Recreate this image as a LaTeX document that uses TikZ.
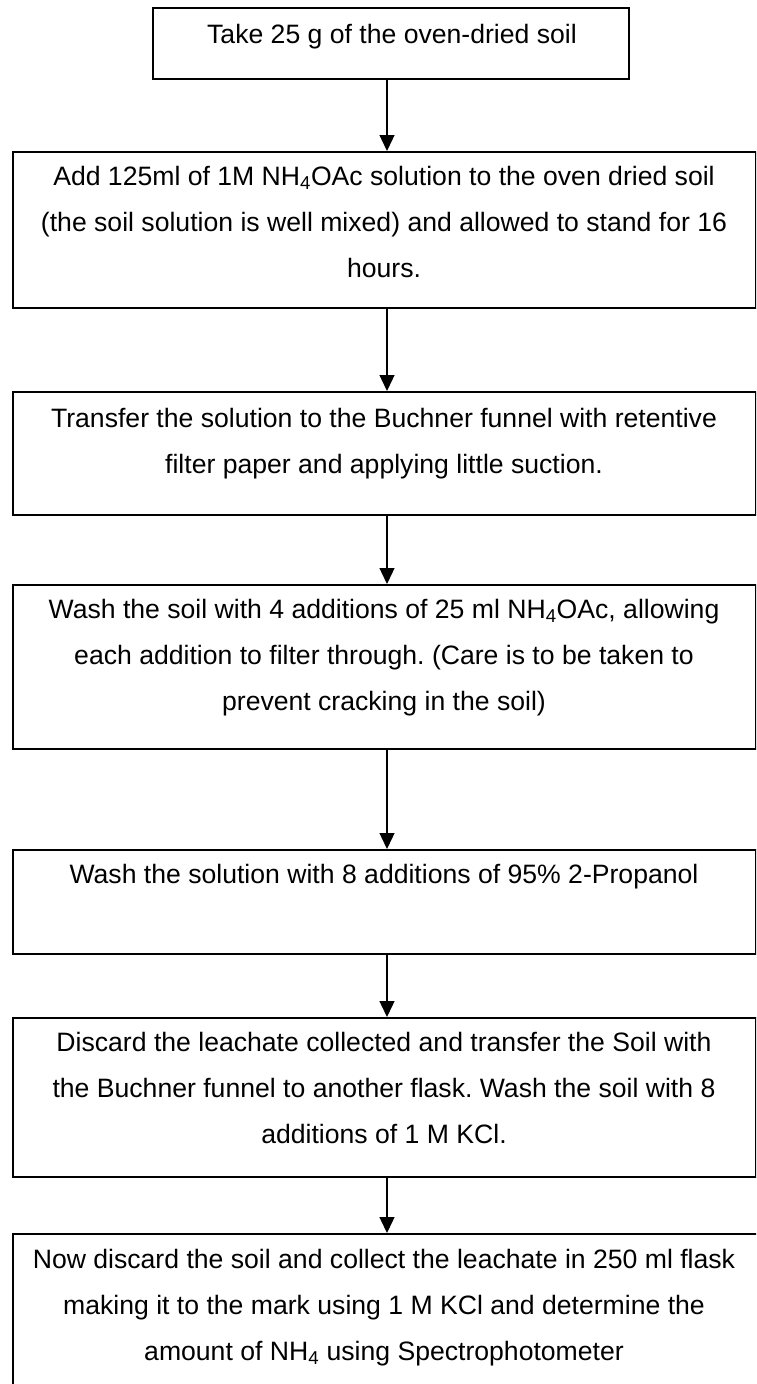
\documentclass[tikz,border=0pt]{standalone}
\usepackage{fontspec}
\setmainfont{Liberation Sans}
\frenchspacing
\usetikzlibrary{arrows.meta}
\begin{document}
\begin{tikzpicture}[x=1pt,y=-1pt,
  box/.style={draw=black, line width=1.8pt, rectangle, inner sep=0pt, anchor=north west},
  steptext/.style={anchor=north, align=center, inner sep=0pt, font=\fontsize{26.6}{46}\selectfont},
  arr/.style={draw=black, line width=1.3pt, -{Triangle[length=16pt,width=15pt]}}]
\useasboundingbox (0,0) rectangle (756,1384);
\clip (0,0) rectangle (756,1384);

% step boxes
\node[box, minimum width=476pt, minimum height=71pt]  (b1) at (152,7) {};
\node[box, minimum width=743pt, minimum height=156pt] (b2) at (12,151) {};
\node[box, minimum width=743pt, minimum height=123pt] (b3) at (12,391) {};
\node[box, minimum width=743pt, minimum height=164pt] (b4) at (12,584) {};
\node[box, minimum width=743pt, minimum height=104pt] (b5) at (12,849) {};
\node[box, minimum width=743pt, minimum height=159pt] (b6) at (12,1017) {};
\node[box, minimum width=746pt, minimum height=160pt] (b7) at (12,1233) {};

% step texts
\node[steptext] (t1) at (392,23.8) {Take 25 g of the oven-dried soil};
\node[steptext] (t2) at (384,165.8) {Add 125ml of 1M NH\textsubscript{4}OAc solution to the oven dried soil\\(the soil solution is well mixed) and allowed to stand for 16\\hours.};
\node[steptext] (t3) at (384,407.8) {Transfer the solution to the Buchner funnel with retentive\\filter paper and applying little suction.};
\node[steptext] (t4) at (384,598.8) {Wash the soil with 4 additions of 25 ml NH\textsubscript{4}OAc, allowing\\each addition to filter through. (Care is to be taken to\\prevent cracking in the soil)};
\node[steptext] (t5) at (384,863.8) {Wash the solution with 8 additions of 95\% 2-Propanol};
\node[steptext] (t6) at (384,1031.8) {Discard the leachate collected and transfer the Soil with\\the Buchner funnel to another flask. Wash the soil with 8\\additions of 1 M KCl.};
\node[steptext] (t7) at (384,1248.8) {Now discard the soil and collect the leachate in 250 ml flask\\making it to the mark using 1 M KCl and determine the\\amount of NH\textsubscript{4} using Spectrophotometer};

% connectors
\coordinate (ax) at (387,0);
\draw[arr] (b1.south -| ax) -- (b2.north -| ax);
\draw[arr] (b2.south -| ax) -- (b3.north -| ax);
\draw[arr] (b3.south -| ax) -- (b4.north -| ax);
\draw[arr] (b4.south -| ax) -- (b5.north -| ax);
\draw[arr] (b5.south -| ax) -- (b6.north -| ax);
\draw[arr] (b6.south -| ax) -- (b7.north -| ax);
\end{tikzpicture}
\end{document}
